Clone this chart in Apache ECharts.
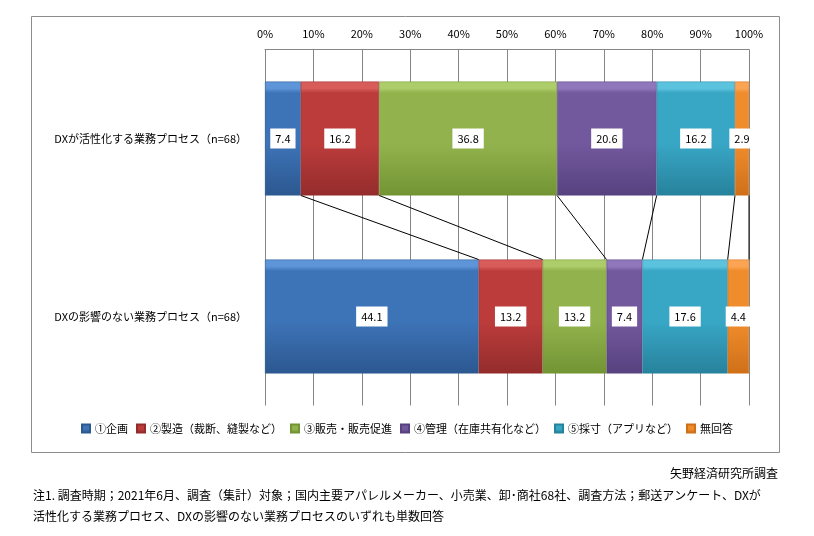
<!DOCTYPE html>
<html>
<head>
<meta charset="utf-8">
<script src="https://cdn.jsdelivr.net/npm/echarts@6/dist/echarts.min.js"></script>
<style>
  html, body { margin: 0; padding: 0; background: #fff; }
  #main { width: 814px; height: 536px; }
</style>
</head>
<body>
<div id="main"></div>
<script>
const categories = ['DXが活性化する業務プロセス（n=68）', 'DXの影響のない業務プロセス（n=68）']
const seriesNames = ['①企画', '②製造（裁断、縫製など）', '③販売・販売促進', '④管理（在庫共有化など）', '⑤採寸（アプリなど）', '無回答']
const activeValues = [7.4, 16.2, 36.8, 20.6, 16.2, 2.9]
const noImpactValues = [44.1, 13.2, 13.2, 7.4, 17.6, 4.4]
const tickLabels = ['0%', '10%', '20%', '30%', '40%', '50%', '60%', '70%', '80%', '90%', '100%']

const font = '"Noto Sans CJK JP", "Noto Sans", sans-serif'
// light, mid, dark
const palette = [
  ['#5d95d8', '#3d73b7', '#2c5890'],
  ['#d85c5a', '#bb3c3b', '#942c2c'],
  ['#adcc6a', '#91b24c', '#739433'],
  ['#9076ba', '#72589d', '#57427f'],
  ['#5cc3de', '#38a6c5', '#27829c'],
  ['#fba554', '#ef8c2c', '#cf7019']
]

function grad (c) {
  return new echarts.graphic.LinearGradient(0, 0, 0, 1, [
    { offset: 0, color: c[0] },
    { offset: 0.06, color: c[0] },
    { offset: 0.1, color: c[1] },
    { offset: 0.55, color: c[1] },
    { offset: 1, color: c[2] }
  ])
}

// 100% stacked: each row as share of its own total
const rows = [activeValues, noImpactValues]
const pct = rows.map(r => {
  const s = r.reduce((a, b) => a + b, 0)
  return r.map(v => v / s * 100)
})
const cum = pct.map(r => {
  let acc = 0
  return r.map(v => (acc += v))
})

const barGap = 0.36

const myChart = echarts.init(document.getElementById('main'))

const barSeries = seriesNames.map((name, i) => ({
  name,
  type: 'bar',
  stack: 'total',
  barCategoryGap: '36%',
  data: [pct[0][i], pct[1][i]],
  itemStyle: { color: grad(palette[i]), borderColor: palette[i][2], borderWidth: 0.5 },
  label: {
    show: true,
    position: 'inside',
    formatter: p => rows[p.dataIndex][i].toFixed(1),
    color: '#000',
    fontSize: 11,
    fontFamily: font,
    backgroundColor: '#fff',
    padding: [5, 5, 4, 5]
  }
}))

// series lines between the two bars
const connector = {
  type: 'custom',
  silent: true,
  z: 3,
  encode: { x: [0, 1], y: 2 },
  data: seriesNames.map((n, i) => [cum[0][i], cum[1][i], 0]),
  renderItem: (params, api) => {
    const band = api.size([0, 1])[1]
    const half = band * (1 - barGap) / 2
    const p1 = api.coord([api.value(0), 0])
    const p2 = api.coord([api.value(1), 1])
    return {
      type: 'line',
      shape: { x1: p1[0], y1: p1[1] + half, x2: p2[0], y2: p2[1] - half },
      style: { stroke: '#000', lineWidth: 1 }
    }
  }
}

myChart.setOption({
  animation: false,
  textStyle: { fontFamily: font },
  grid: { left: 265, right: 65, top: 49.5, bottom: 130.5, containLabel: false },
  xAxis: {
    type: 'value',
    position: 'top',
    min: 0,
    max: 100,
    interval: 10,
    axisLine: { show: true, lineStyle: { color: '#868686' } },
    axisTick: { show: false },
    splitLine: { show: true, lineStyle: { color: '#868686' } },
    axisLabel: {
      color: '#000',
      fontSize: 11,
      margin: 10,
      formatter: v => tickLabels[Math.round(v / 10)]
    }
  },
  yAxis: {
    type: 'category',
    inverse: true,
    data: categories,
    axisLine: { show: false },
    axisTick: { show: false },
    axisLabel: { color: '#000', fontSize: 11, margin: 18 }
  },
  legend: {
    data: seriesNames,
    bottom: 97,
    left: 'center',
    itemWidth: 8,
    itemHeight: 8,
    itemGap: 8,
    icon: 'rect',
    textStyle: { color: '#000', fontSize: 11, fontFamily: font }
  },
  graphic: [
    {
      type: 'rect',
      shape: { x: 31.5, y: 16.5, width: 748, height: 436 },
      style: { fill: 'none', stroke: '#8c8c8c', lineWidth: 1 },
      silent: true
    },
    {
      type: 'text',
      right: 36,
      top: 467,
      style: { text: '矢野経済研究所調査', fill: '#000', font: '12px ' + font }
    },
    {
      type: 'text',
      left: 33,
      top: 489,
      style: { text: '注1. 調査時期；2021年6月、調査（集計）対象；国内主要アパレルメーカー、小売業、卸･商社68社、調査方法；郵送アンケート、DXが', fill: '#000', font: '12px ' + font }
    },
    {
      type: 'text',
      left: 33,
      top: 510,
      style: { text: '活性化する業務プロセス、DXの影響のない業務プロセスのいずれも単数回答', fill: '#000', font: '12px ' + font }
    }
  ],
  series: [...barSeries, connector]
})
</script>
</body>
</html>
